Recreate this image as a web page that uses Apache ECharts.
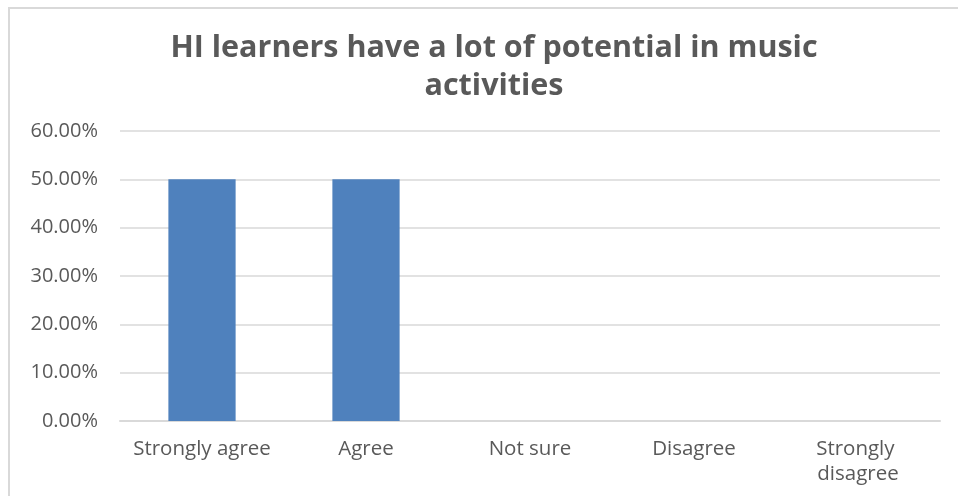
<!DOCTYPE html>
<html><head><meta charset="utf-8">
<script src="https://cdn.jsdelivr.net/npm/echarts@6/dist/echarts.min.js"></script>
<style>
html,body{margin:0;padding:0;background:#fff;}
#frame{position:absolute;left:8px;top:7px;width:1000px;height:600px;border-top:2px solid #d9d9d9;border-left:2px solid #d9d9d9;box-sizing:border-box;}
#c{position:absolute;left:0;top:0;width:958px;height:496px;}
</style></head>
<body>
<div id="frame"></div>
<div id="c"></div>
<script>
const titleText = 'HI learners have a lot of potential in music\nactivities';
const categories = ['Strongly agree', 'Agree', 'Not sure', 'Disagree', 'Strongly disagree'];
const values = [0.5, 0.5, 0, 0, 0];
const yTicks = { min: 0, max: 0.6, interval: 0.1 };

const chart = echarts.init(document.getElementById('c'), null, {renderer: 'canvas'});
chart.setOption({
  animation: false,
  title: {
    text: titleText,
    left: 489, top: 24, textAlign: 'center',
    textStyle: { fontFamily: 'Open Sans', fontWeight: 'bold', fontSize: 30.5, color: '#595959', lineHeight: 38 }
  },
  grid: { left: 120, right: 18, top: 131, bottom: 75 },
  xAxis: {
    type: 'category', data: categories,
    axisLine: { lineStyle: { color: '#d9d9d9', width: 2 } },
    axisTick: { show: false },
    axisLabel: { color: '#595959', fontFamily: 'Open Sans', fontSize: 20.5, margin: 16, lineHeight: 25, width: 150, overflow: 'break', interval: 0 }
  },
  yAxis: {
    type: 'value', min: yTicks.min, max: yTicks.max, interval: yTicks.interval,
    axisLine: { show: false }, axisTick: { show: false },
    splitLine: { lineStyle: { color: '#d9d9d9', width: 1.5 } },
    axisLabel: { color: '#595959', fontFamily: 'Open Sans', fontSize: 20, margin: 22,
      formatter: v => (v * 100).toFixed(2) + '%' }
  },
  series: [{
    type: 'bar', data: values, barWidth: '41%',
    itemStyle: { color: '#4F81BD' }
  }]
});
</script>
</body></html>
